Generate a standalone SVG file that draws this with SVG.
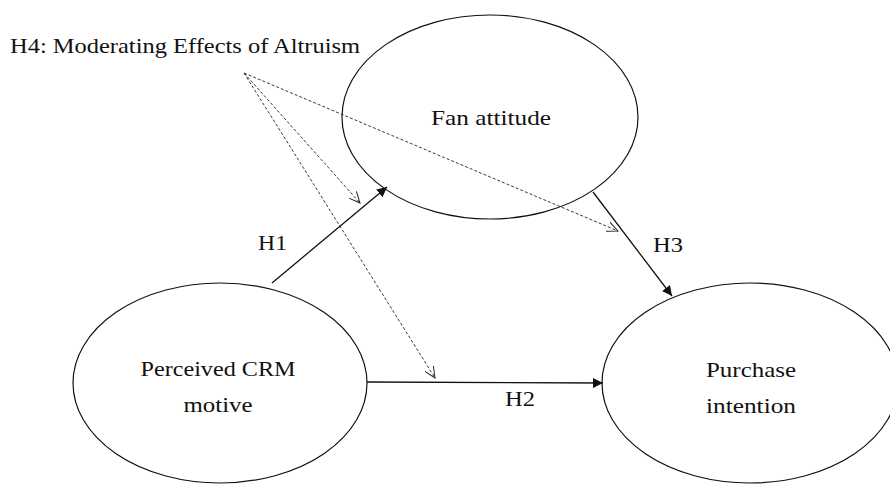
<svg xmlns="http://www.w3.org/2000/svg" width="890" height="484" viewBox="0 0 890 484">
<style>
.node ellipse{fill:none;stroke:#111;stroke-width:1.2}
text{font-family:"Liberation Serif","DejaVu Serif",serif;font-size:21px;fill:#111}
.c{text-anchor:middle}
.solid{stroke:#111;stroke-width:1.3;fill:none}
.dash{stroke:#222;stroke-width:0.9;stroke-dasharray:3 2;fill:none}
</style>
<defs>
<marker id="fill" viewBox="0 0 10 10" refX="10" refY="5" markerWidth="10" markerHeight="10" markerUnits="userSpaceOnUse" orient="auto">
<path d="M0,0 L10,5 L0,10 z" fill="#111"/>
</marker>
<marker id="open" viewBox="0 0 12 12" refX="11" refY="6" markerWidth="12" markerHeight="12" markerUnits="userSpaceOnUse" orient="auto">
<path d="M0,1 L11,6 L0,11" fill="none" stroke="#222" stroke-width="1"/>
</marker>
</defs>
<rect width="890" height="484" fill="#fff"/>
<g id="moderator"><text x="10" y="53" textLength="350" lengthAdjust="spacingAndGlyphs">H4: Moderating Effects of Altruism</text></g>
<g id="fan" class="node"><ellipse cx="490" cy="117" rx="148" ry="102"/><text class="c" x="491" y="125" textLength="120" lengthAdjust="spacingAndGlyphs">Fan attitude</text></g>
<g id="crm" class="node"><ellipse cx="220" cy="383" rx="147" ry="100"/><text class="c" x="218" y="376" textLength="155" lengthAdjust="spacingAndGlyphs">Perceived CRM</text><text class="c" x="218" y="412" textLength="69" lengthAdjust="spacingAndGlyphs">motive</text></g>
<g id="purchase" class="node"><ellipse cx="750" cy="383" rx="148" ry="100"/><text class="c" x="751" y="377" textLength="90" lengthAdjust="spacingAndGlyphs">Purchase</text><text class="c" x="751" y="413" textLength="90" lengthAdjust="spacingAndGlyphs">intention</text></g>
<g id="connectors">
<line class="dash" x1="244" y1="73" x2="360" y2="203" marker-end="url(#open)"/>
<line class="dash" x1="244" y1="73" x2="435" y2="378" marker-end="url(#open)"/>
<line class="dash" x1="244" y1="73" x2="618" y2="231" marker-end="url(#open)"/>
<line class="solid" x1="272" y1="283" x2="387" y2="187" marker-end="url(#fill)"/>
<line class="solid" x1="593" y1="192" x2="672" y2="296" marker-end="url(#fill)"/>
<line class="solid" x1="367" y1="382" x2="603" y2="383" marker-end="url(#fill)"/>
<text x="258" y="250" textLength="29" lengthAdjust="spacingAndGlyphs">H1</text>
<text x="505" y="406" textLength="30" lengthAdjust="spacingAndGlyphs">H2</text>
<text x="653" y="252" textLength="30" lengthAdjust="spacingAndGlyphs">H3</text>
</g>
</svg>
